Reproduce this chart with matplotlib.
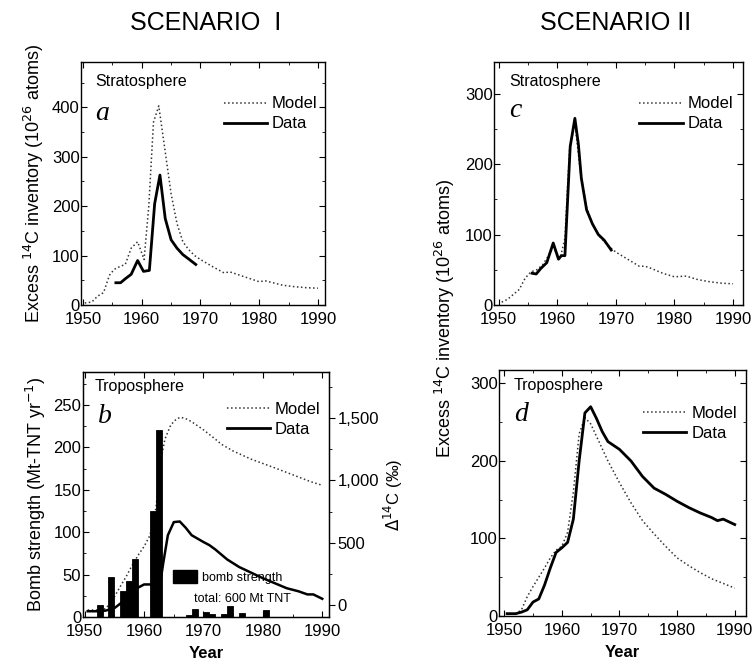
import numpy as np
import matplotlib
matplotlib.use("Agg")
import matplotlib.pyplot as plt
from matplotlib.patches import Patch
from matplotlib.ticker import MultipleLocator, FuncFormatter

plt.rcParams['font.family'] = ['Liberation Sans', 'DejaVu Sans']

# ---- panel a : stratosphere, scenario I ----
a_model_yr = [1950.3, 1951.5, 1952.5, 1953.5, 1954.5, 1955.3, 1956.3, 1957.2, 1958.2, 1959.3,
              1960.4, 1961.2, 1962.0, 1962.9, 1964.0, 1965.0, 1966.0, 1967.0, 1968.0, 1969.0,
              1970.0, 1972.0, 1974.0, 1975.0, 1976.0, 1978.0, 1980.0, 1981.0, 1982.0, 1984.0,
              1986.0, 1988.0, 1990.0]
a_model = [4, 6, 18, 25, 60, 72, 78, 82, 115, 128,
           92, 200, 370, 403, 310, 225, 165, 128, 112, 100,
           92, 78, 65, 67, 63, 55, 47, 49, 46, 40,
           37, 35, 34]
a_data_yr = [1955.6, 1956.4, 1957.2, 1958.2, 1959.3, 1960.3, 1961.3, 1962.2, 1963.1, 1964.0,
             1965.0, 1966.0, 1967.0, 1968.0, 1969.2]
a_data = [45, 45, 53, 62, 90, 68, 70, 205, 263, 175,
          132, 115, 102, 93, 82]

# ---- panel c : stratosphere, scenario II ----
c_model_yr = [1950.5, 1951.5, 1952.5, 1953.5, 1954.5, 1955.5, 1956.5, 1957.5, 1958.5, 1959.3,
              1960.0, 1960.6, 1961.3, 1962.1, 1963.0, 1964.0, 1965.0, 1966.0, 1967.0, 1968.0,
              1969.0, 1970.0, 1972.0, 1974.0, 1975.0, 1976.0, 1978.0, 1980.0, 1982.0, 1984.0,
              1986.0, 1988.0, 1990.0]
c_model = [4, 8, 15, 22, 38, 47, 50, 57, 70, 82,
           72, 70, 95, 222, 258, 185, 138, 115, 100, 90,
           82, 75, 65, 55, 55, 52, 45, 40, 41, 36,
           33, 31, 30]
c_data_yr = [1955.7, 1956.4, 1957.2, 1958.2, 1959.3, 1960.2, 1960.7, 1961.3, 1962.2, 1963.0,
             1963.6, 1964.1, 1965.0, 1966.0, 1967.0, 1968.0, 1969.2]
c_data = [45, 44, 52, 60, 88, 65, 70, 70, 225, 265,
          228, 180, 135, 115, 100, 92, 78]

# ---- panel b : troposphere, scenario I (bomb strength + delta 14C) ----
bomb_yr = [1952, 1954, 1956, 1957, 1958, 1961, 1962, 1967, 1968, 1970, 1971, 1973, 1974, 1976, 1980]
bomb_mt = [14, 47, 31, 42, 68, 125, 220, 2, 9, 6, 3, 3, 13, 5, 8]

b_model_yr = [1950.5, 1952.0, 1953.5, 1954.7, 1956.0, 1957.0, 1958.0, 1959.0, 1960.0, 1961.0,
              1962.0, 1962.7, 1963.5, 1964.5, 1965.5, 1966.2, 1967.0, 1968.0, 1970.0, 1972.0,
              1973.0, 1975.0, 1978.0, 1980.0, 1982.0, 1985.0, 1988.0, 1990.0]
b_model = [-40, -40, -30, 40, 150, 230, 320, 400, 470, 560,
           780, 1130, 1330, 1445, 1495, 1505, 1495, 1470, 1405, 1330,
           1290, 1235, 1170, 1135, 1100, 1045, 990, 960]
b_data_yr = [1950.5, 1952.0, 1953.5, 1955.0, 1956.5, 1958.0, 1959.0, 1960.0, 1961.0, 1962.0,
             1962.6, 1963.2, 1964.0, 1965.0, 1966.0, 1967.0, 1968.0, 1970.0, 1971.0, 1972.0,
             1974.0, 1976.0, 1978.0, 1980.0, 1982.0, 1984.0, 1986.0, 1987.5, 1988.5, 1990.0]
b_data = [-50, -50, -45, -25, 30, 100, 140, 165, 165, 150,
          140, 330, 560, 665, 670, 620, 560, 505, 480, 445,
          365, 305, 260, 215, 175, 135, 110, 85, 85, 50]

# ---- panel d : troposphere, scenario II ----
d_model_yr = [1950.5, 1952.0, 1953.0, 1954.0, 1955.0, 1956.0, 1957.0, 1958.0, 1959.0, 1960.0,
              1961.0, 1962.0, 1963.0, 1964.0, 1965.0, 1966.0, 1968.0, 1970.0, 1972.0, 1974.0,
              1976.0, 1978.0, 1980.0, 1982.0, 1984.0, 1986.0, 1988.0, 1990.0]
d_model = [2, 3, 8, 25, 38, 50, 62, 75, 85, 90,
           108, 160, 235, 256, 248, 232, 200, 172, 146, 123,
           106, 90, 75, 65, 56, 48, 42, 36]
d_data_yr = [1950.5, 1952.0, 1953.0, 1954.0, 1955.0, 1956.0, 1957.0, 1958.0, 1959.0, 1960.0,
             1961.0, 1962.0, 1963.0, 1964.0, 1965.0, 1966.0, 1967.0, 1968.0, 1970.0, 1972.0,
             1974.0, 1976.0, 1978.0, 1980.0, 1982.0, 1984.0, 1986.0, 1987.0, 1988.0, 1990.0]
d_data = [3, 3, 5, 8, 18, 22, 40, 62, 82, 88,
          95, 125, 200, 262, 270, 255, 238, 225, 215, 200,
          180, 165, 157, 148, 140, 133, 127, 123, 125, 118]

year_ticks = [1950, 1960, 1970, 1980, 1990]

fig = plt.figure(figsize=(7.52, 6.64), dpi=100)


def style_axes(ax, xlim, ymax, ymajor, yminor):
    ax.set_xlim(*xlim)
    ax.set_ylim(0, ymax)
    ax.set_xticks(year_ticks)
    ax.xaxis.set_minor_locator(MultipleLocator(5))
    ax.yaxis.set_major_locator(MultipleLocator(ymajor))
    ax.yaxis.set_minor_locator(MultipleLocator(yminor))
    ax.tick_params(which='both', direction='in', top=True, right=True, labelsize=12)
    ax.tick_params(axis='y', pad=1)
    ax.tick_params(axis='x', pad=5)
    ax.tick_params(which='major', length=4)
    ax.tick_params(which='minor', length=2)
    for s in ax.spines.values():
        s.set_linewidth(1.0)


def add_legend(ax, loc=(0.55, 0.70)):
    h1, = ax.plot([], [], color='#333333', ls=':', lw=1.1)
    h2, = ax.plot([], [], color='black', ls='-', lw=2)
    leg = ax.legend([h1, h2], ['Model', 'Data'], loc='lower left', bbox_to_anchor=loc,
                    frameon=False, fontsize=12, handlelength=2.6, handletextpad=0.3,
                    labelspacing=0.3, borderpad=0)
    return leg


def panel_letter(ax, letter, y):
    ax.text(0.06, y, letter, transform=ax.transAxes, fontsize=20, va='top',
            family='Liberation Serif', style='italic')


# panel a
ax_a = fig.add_axes([0.1077, 0.5407, 0.3245, 0.366])
ax_a.plot(a_model_yr, a_model, color='#333333', ls=':', lw=1.1)
ax_a.plot(a_data_yr, a_data, color='black', lw=2)
style_axes(ax_a, (1949.66, 1991.2), 492, 100, 50)
add_legend(ax_a, (0.55, 0.68))
ax_a.text(0.06, 0.95, 'Stratosphere', transform=ax_a.transAxes, fontsize=11.5, va='top')
panel_letter(ax_a, 'a', 0.84)
ax_a.set_ylabel('Excess $^{14}$C inventory (10$^{26}$ atoms)', fontsize=13, labelpad=4)

# panel c
ax_c = fig.add_axes([0.657, 0.5407, 0.331, 0.366])
ax_c.plot(c_model_yr, c_model, color='#333333', ls=':', lw=1.1)
ax_c.plot(c_data_yr, c_data, color='black', lw=2)
style_axes(ax_c, (1949.2, 1991.7), 345, 100, 50)
add_legend(ax_c, (0.55, 0.68))
ax_c.text(0.06, 0.95, 'Stratosphere', transform=ax_c.transAxes, fontsize=11.5, va='top')
panel_letter(ax_c, 'c', 0.85)

# panel b
ax_b = fig.add_axes([0.110, 0.0708, 0.328, 0.369])
ax_b2 = ax_b.twinx()
ax_b.set_zorder(ax_b2.get_zorder() + 1)
ax_b.patch.set_visible(False)
ax_b.bar(bomb_yr, bomb_mt, width=1.0, align='edge', color='black', edgecolor='black', lw=0.6)
ax_b2.plot(b_model_yr, b_model, color='#333333', ls=':', lw=1.1)
ax_b2.plot(b_data_yr, b_data, color='black', lw=1.8)
style_axes(ax_b, (1949.66, 1991.2), 289, 50, 25)
ax_b.tick_params(right=False, which='both')
ax_b2.set_ylim(-96, 1869)
ax_b2.yaxis.set_major_locator(MultipleLocator(500))
ax_b2.yaxis.set_minor_locator(MultipleLocator(250))
ax_b2.tick_params(which='both', direction='out', labelsize=12, pad=2)
ax_b2.tick_params(which='major', length=4)
ax_b2.tick_params(which='minor', length=2)
ax_b2.yaxis.set_major_formatter(FuncFormatter(lambda v, p: f'{int(v):,}'))
add_legend(ax_b2, (0.55, 0.70))
ax_b.legend([Patch(color='black')], ['bomb strength'], loc='lower left',
            bbox_to_anchor=(0.34, 0.11), frameon=False, fontsize=9,
            handlelength=1.9, handleheight=1.3, handletextpad=0.4, borderpad=0)
ax_b.text(0.45, 0.06, 'total: 600 Mt TNT', transform=ax_b.transAxes, fontsize=9)
ax_b.text(0.05, 0.97, 'Troposphere', transform=ax_b.transAxes, fontsize=11.5, va='top')
panel_letter(ax_b, 'b', 0.87)
ax_b.set_ylabel('Bomb strength (Mt-TNT yr$^{-1}$)', fontsize=13, labelpad=4)
ax_b2.set_ylabel('$\\Delta^{14}$C (‰)', fontsize=12, labelpad=2)
ax_b.set_xlabel('Year', fontsize=12, fontweight='bold', labelpad=5)

# panel d
ax_d = fig.add_axes([0.6636, 0.0723, 0.328, 0.370])
ax_d.plot(d_model_yr, d_model, color='#333333', ls=':', lw=1.1)
ax_d.plot(d_data_yr, d_data, color='black', lw=2)
style_axes(ax_d, (1949.1, 1991.9), 317, 100, 50)
add_legend(ax_d, (0.55, 0.68))
ax_d.text(0.06, 0.97, 'Troposphere', transform=ax_d.transAxes, fontsize=11.5, va='top')
panel_letter(ax_d, 'd', 0.87)
ax_d.set_xlabel('Year', fontsize=12, fontweight='bold', labelpad=5)

fig.text(0.592, 0.52, 'Excess $^{14}$C inventory (10$^{26}$ atoms)', rotation=90,
         fontsize=13, ha='center', va='center')

fig.text(0.273, 0.965, 'SCENARIO  I', fontsize=18, ha='center', va='center')
fig.text(0.818, 0.965, 'SCENARIO II', fontsize=18, ha='center', va='center')

fig.savefig('out.png', dpi=100)
